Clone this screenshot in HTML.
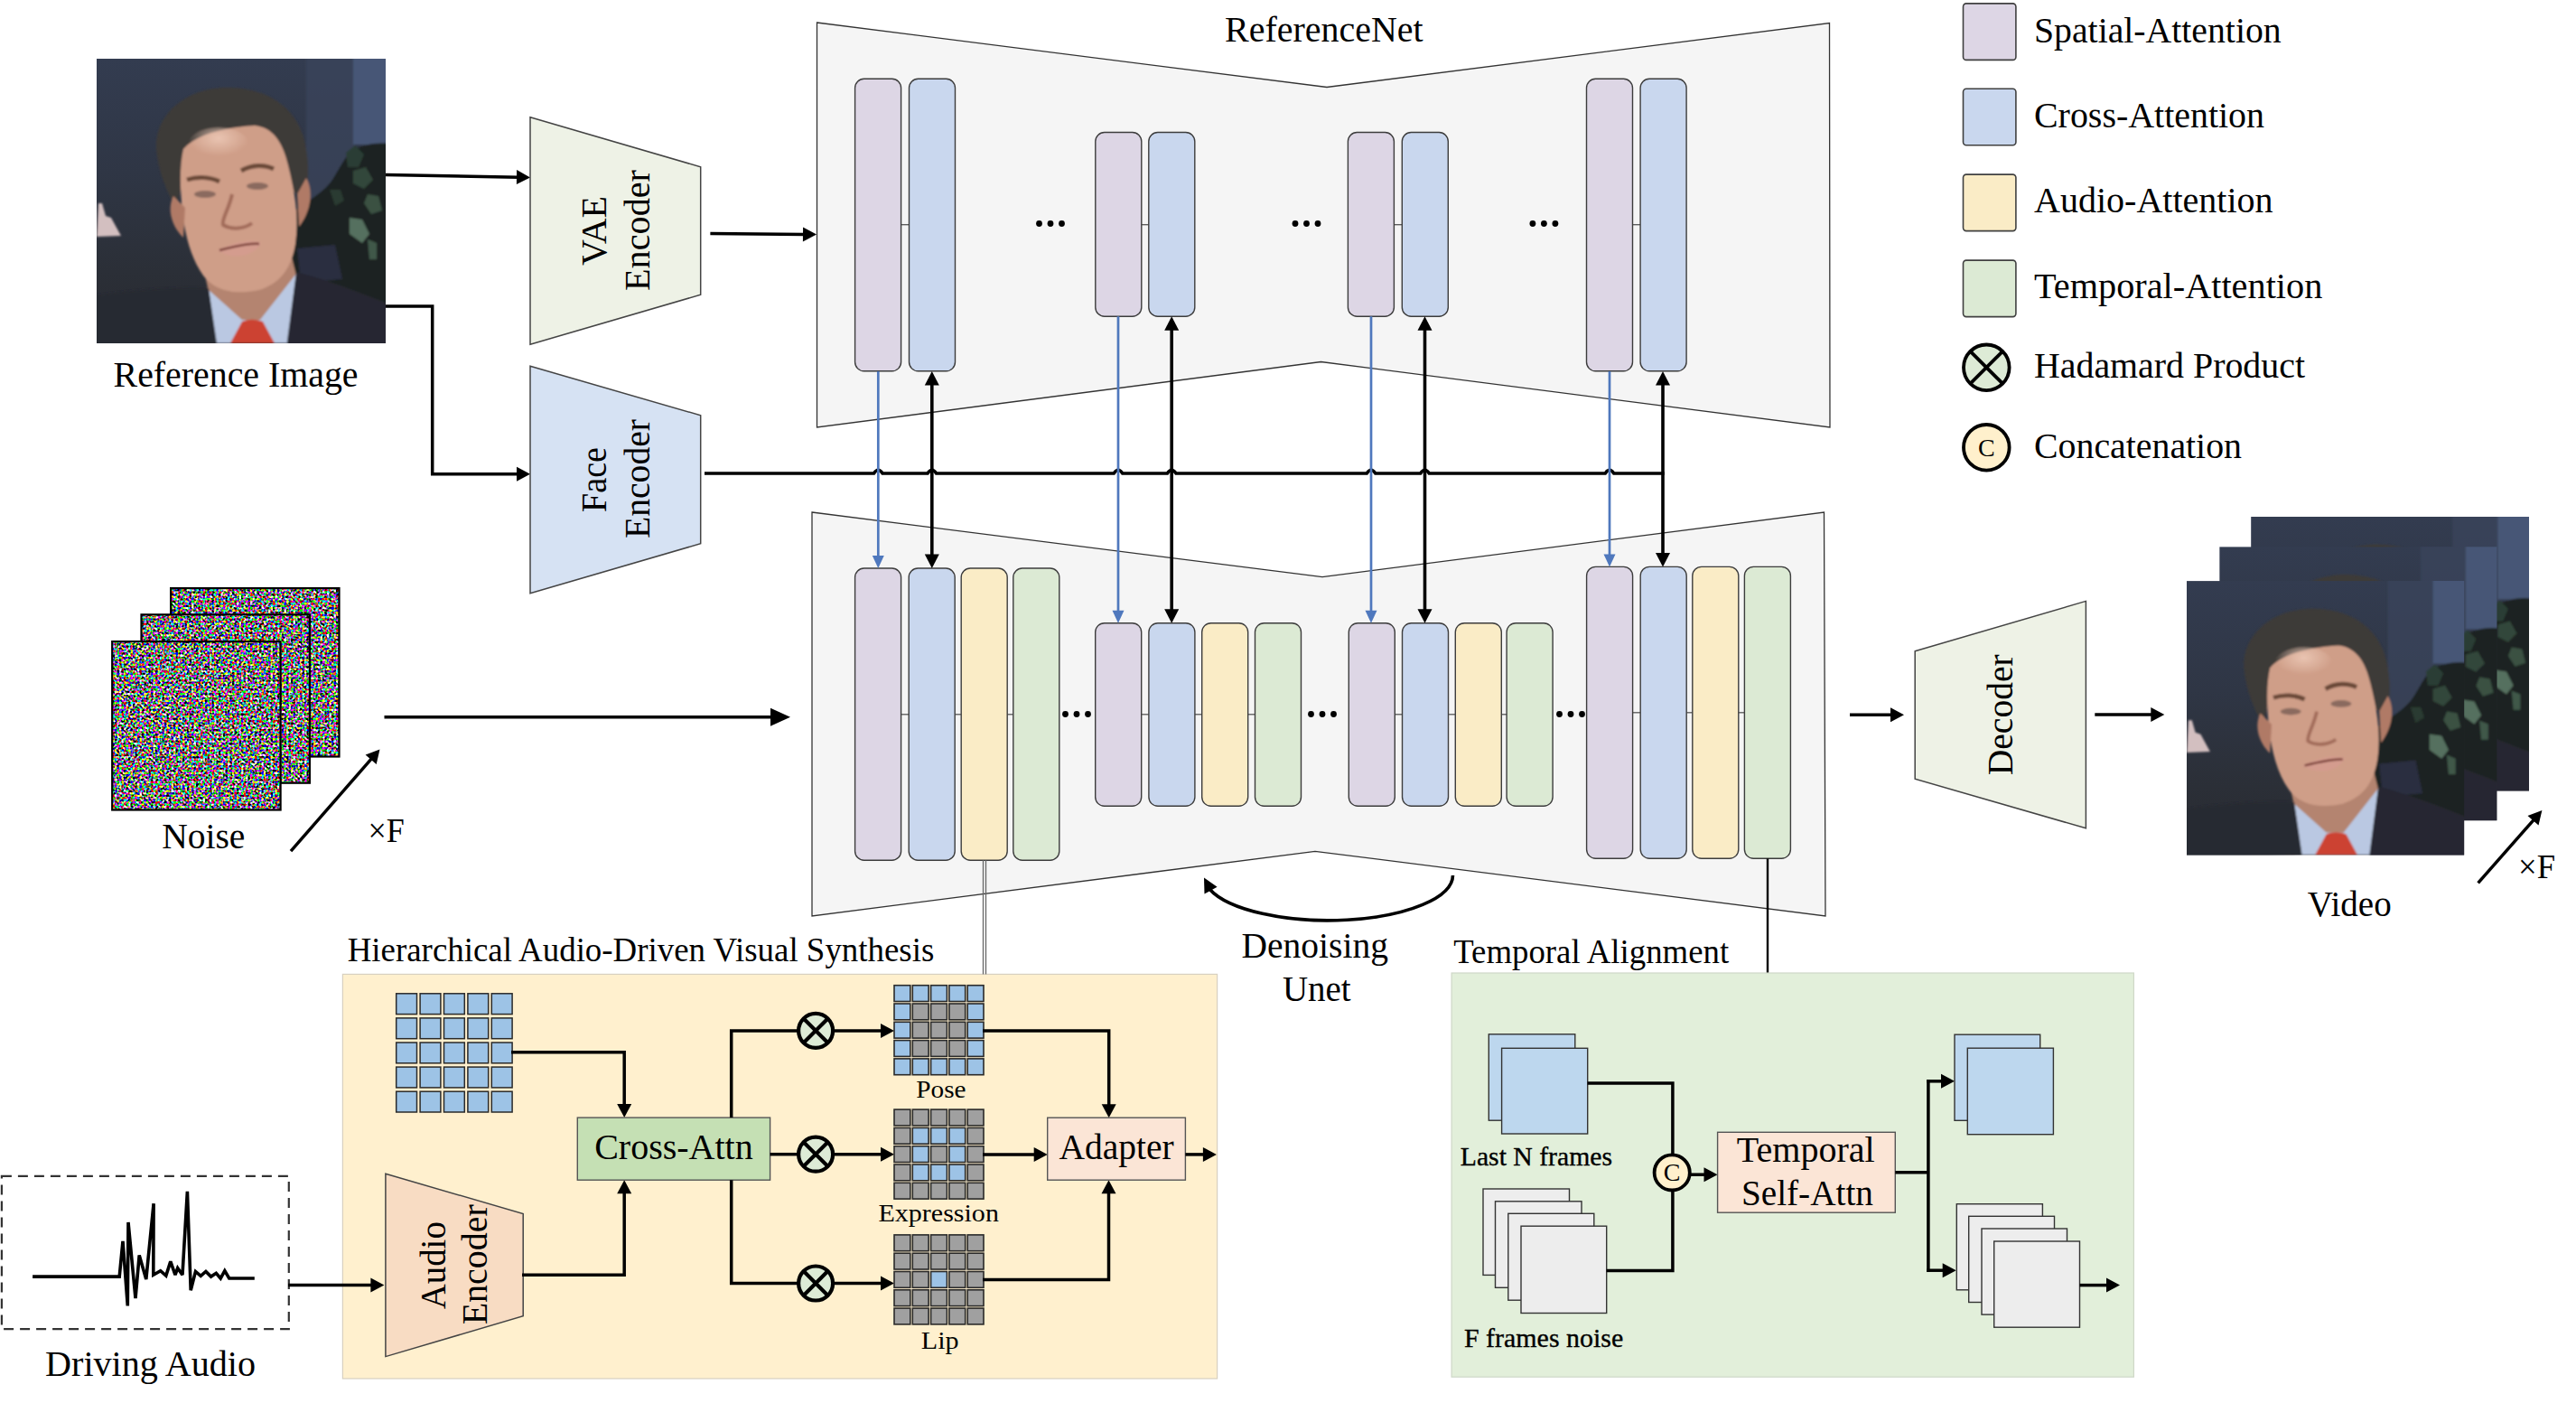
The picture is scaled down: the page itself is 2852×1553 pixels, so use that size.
<!DOCTYPE html>
<html><head><meta charset="utf-8"><title>Hallo</title>
<style>html,body{margin:0;padding:0;background:#fff;}svg{display:block;}</style></head>
<body><svg width="2852" height="1553" viewBox="0 0 2852 1553">
<defs>
<filter id="noise" x="0" y="0" width="100%" height="100%" filterUnits="objectBoundingBox" color-interpolation-filters="sRGB">
 <feTurbulence type="fractalNoise" baseFrequency="0.4" numOctaves="1" seed="3" result="t"/>
 <feComponentTransfer in="t">
  <feFuncR type="linear" slope="5.5" intercept="-2.3"/>
  <feFuncG type="linear" slope="5.5" intercept="-2.3"/>
  <feFuncB type="linear" slope="5.5" intercept="-2.3"/>
  <feFuncA type="linear" slope="0" intercept="1"/>
 </feComponentTransfer>
</filter>
<clipPath id="pc"><rect x="0" y="0" width="320" height="315"/></clipPath>
<linearGradient id="bgg" x1="0" y1="0" x2="0" y2="1">
 <stop offset="0" stop-color="#333c50"/><stop offset="0.4" stop-color="#2f3645"/><stop offset="0.75" stop-color="#2b2f37"/><stop offset="1" stop-color="#282a30"/>
</linearGradient>
<radialGradient id="faceg" cx="0.45" cy="0.35" r="0.7">
 <stop offset="0" stop-color="#dcae98"/><stop offset="0.6" stop-color="#c9957f"/><stop offset="1" stop-color="#a8705c"/>
</radialGradient>
<filter id="soft" x="-2%" y="-2%" width="104%" height="104%"><feGaussianBlur stdDeviation="1.3"/></filter>
<radialGradient id="leftdark" cx="0" cy="0.75" r="0.8"><stop offset="0" stop-color="#22252b" stop-opacity="0.6"/><stop offset="1" stop-color="#22252b" stop-opacity="0"/></radialGradient>
<radialGradient id="foreg" cx="0.5" cy="0.3" r="0.5">
 <stop offset="0" stop-color="#ecc8b6" stop-opacity="0.9"/><stop offset="1" stop-color="#ecc8b6" stop-opacity="0"/>
</radialGradient>
<g id="photo">
 <g clip-path="url(#pc)">
 <rect x="0" y="0" width="320" height="315" fill="url(#bgg)"/>
 <g filter="url(#soft)">
 <rect x="232" y="-5" width="53" height="170" fill="#3a445c" opacity="0.75"/>
 <rect x="284" y="-5" width="40" height="100" fill="#475676"/>
 <path d="M216,172 C228,160 246,152 258,138 C266,128 272,112 282,102 C295,95 308,92 325,94 L325,280 L212,280 Z" fill="#1d2421"/>
 <path d="M276,104 l10,-8 l10,10 l-6,14 l-12,0 z" fill="#2c3e34"/>
 <path d="M284,124 l14,-4 l8,14 l-10,10 l-12,-6 z" fill="#33473b"/>
 <path d="M300,150 l12,2 l4,16 l-12,4 l-8,-12 z" fill="#3a5143"/>
 <path d="M280,176 l14,2 l8,16 l-8,10 l-14,-10 z" fill="#55705f"/>
 <path d="M300,200 l10,4 l0,18 l-8,0 z" fill="#3f584a"/>
 <path d="M258,145 l12,0 l4,12 l-10,6 z" fill="#2a3b32"/>
 <path d="M222,210 L264,206 L272,244 L226,248 Z" fill="#35365c" opacity="0.55"/>
 <path d="M2,160 L6,160 L10,174 L16,176 L27,196 L0,197 Z" fill="#d3bfc0"/>
 <path d="M66,100 C64,62 98,34 140,32 C190,30 226,56 232,100 C236,125 234,140 230,152 L214,146 C212,120 204,96 186,78 C160,72 120,78 96,100 L94,140 L88,165 C76,145 68,122 66,100 Z" fill="#3e3b38"/>
 <path d="M116,222 L214,212 L221,240 L181,291 L161,291 L124,258 Z" fill="#b48470"/>
 <path d="M96,100 C110,84 140,76 175,74 C195,76 206,92 212,118 C220,150 224,175 220,205 C216,230 205,248 180,256 C150,262 130,256 118,240 C104,220 98,195 95,170 C92,140 92,118 96,100 Z" fill="#cf9e88"/>
 <ellipse cx="135" cy="96" rx="34" ry="20" fill="url(#foreg)"/>
 <path d="M85,152 C78,165 82,185 96,198 L98,165 Z" fill="#b07a66"/>
 <path d="M232,132 C240,145 238,168 224,186 L222,150 Z" fill="#b07a66"/>
 <path d="M100,134 C112,130 126,131 136,136" stroke="#6a4838" stroke-width="5" fill="none"/>
 <path d="M160,124 C172,117 186,117 196,122" stroke="#6a4838" stroke-width="5" fill="none"/>
 <ellipse cx="120" cy="150" rx="12" ry="4" fill="#8a6a5e"/>
 <ellipse cx="178" cy="141" rx="12" ry="4" fill="#8a6a5e"/>
 <path d="M150,150 C146,168 138,178 140,184 C150,190 164,188 172,182" stroke="#a26c5a" stroke-width="4" fill="none"/>
 <path d="M134,212 C150,204 172,198 182,204 C176,218 150,224 134,212 Z" fill="#d49c8e"/>
 <path d="M136,212 C152,208 170,204 180,205" stroke="#7a4038" stroke-width="2.5" fill="none"/>
 <path d="M124,256 L161,289 L181,289 L221,238 L212,315 L132,315 Z" fill="#bac8e2"/>
 <path d="M161,291 C168,288 176,288 184,291 L197,315 L148,315 Z" fill="#cc4330"/>
 <path d="M-5,262 C40,256 90,252 124,254 L133,315 L-5,320 Z" fill="#272a33"/>
 <path d="M221,236 C260,246 300,262 325,272 L325,320 L210,320 Z" fill="#262832"/>
 </g>
 </g>
</g>
</defs>
<rect x="0" y="0" width="2852" height="1553" fill="#fff"/>
<rect x="2173.5" y="3.9" width="58.4" height="62.5" rx="3.5" fill="#DDD6E5" stroke="#404040" stroke-width="1.6" />
<text x="2252" y="47" font-size="41" font-family="Liberation Serif" fill="#000" text-anchor="start" textLength="273.7" lengthAdjust="spacingAndGlyphs" >Spatial-Attention</text>
<rect x="2173.5" y="98.2" width="58.4" height="62.5" rx="3.5" fill="#C9D7EE" stroke="#404040" stroke-width="1.6" />
<text x="2252" y="140.5" font-size="41" font-family="Liberation Serif" fill="#000" text-anchor="start" textLength="255" lengthAdjust="spacingAndGlyphs" >Cross-Attention</text>
<rect x="2173.5" y="193.1" width="58.4" height="62.5" rx="3.5" fill="#FAECC6" stroke="#404040" stroke-width="1.6" />
<text x="2252" y="235.4" font-size="41" font-family="Liberation Serif" fill="#000" text-anchor="start" textLength="264.6" lengthAdjust="spacingAndGlyphs" >Audio-Attention</text>
<rect x="2173.5" y="288.1" width="58.4" height="62.5" rx="3.5" fill="#DCEAD4" stroke="#404040" stroke-width="1.6" />
<text x="2252" y="330.4" font-size="41" font-family="Liberation Serif" fill="#000" text-anchor="start" textLength="319.3" lengthAdjust="spacingAndGlyphs" >Temporal-Attention</text>
<circle cx="2199.3" cy="406.8" r="25.3" fill="#DDEBD6" stroke="#000" stroke-width="3.8"/>
<line x1="2181.4" y1="388.9" x2="2217.2" y2="424.7" stroke="#000" stroke-width="3.8" />
<line x1="2217.2" y1="388.9" x2="2181.4" y2="424.7" stroke="#000" stroke-width="3.8" />
<text x="2252" y="418.2" font-size="41" font-family="Liberation Serif" fill="#000" text-anchor="start" textLength="300" lengthAdjust="spacingAndGlyphs" >Hadamard Product</text>
<circle cx="2199.3" cy="495.3" r="25.3" fill="#FFF0CC" stroke="#000" stroke-width="3.8"/>
<text x="2199.3" y="505" font-size="28" font-family="Liberation Serif" fill="#000" text-anchor="middle" >C</text>
<text x="2252" y="506.8" font-size="41" font-family="Liberation Serif" fill="#000" text-anchor="start" textLength="230" lengthAdjust="spacingAndGlyphs" >Concatenation</text>
<polygon points="904.5,25 1469,96.5 2025.5,25.5 2026,473 1462.5,400.5 904.5,473" fill="#F5F5F5" stroke="#333" stroke-width="1.3" />
<text x="1356" y="45.9" font-size="41" font-family="Liberation Serif" fill="#000" text-anchor="start" textLength="219.7" lengthAdjust="spacingAndGlyphs" >ReferenceNet</text>
<line x1="997.6" y1="248.7" x2="1006.5" y2="248.7" stroke="#555" stroke-width="1.3" />
<rect x="946.6" y="87.3" width="51" height="323.5" rx="10" fill="#DDD6E5" stroke="#3c3c3c" stroke-width="1.4" />
<rect x="1006.5" y="87.3" width="51" height="323.5" rx="10" fill="#C9D7EE" stroke="#3c3c3c" stroke-width="1.4" />
<line x1="1263.8" y1="248.7" x2="1271.8" y2="248.7" stroke="#555" stroke-width="1.3" />
<rect x="1212.8" y="146.5" width="51" height="203.7" rx="10" fill="#DDD6E5" stroke="#3c3c3c" stroke-width="1.4" />
<rect x="1271.8" y="146.5" width="51" height="203.7" rx="10" fill="#C9D7EE" stroke="#3c3c3c" stroke-width="1.4" />
<line x1="1543.4" y1="248.7" x2="1552.3" y2="248.7" stroke="#555" stroke-width="1.3" />
<rect x="1492.4" y="146.5" width="51" height="203.7" rx="10" fill="#DDD6E5" stroke="#3c3c3c" stroke-width="1.4" />
<rect x="1552.3" y="146.5" width="51" height="203.7" rx="10" fill="#C9D7EE" stroke="#3c3c3c" stroke-width="1.4" />
<line x1="1807.5" y1="248.7" x2="1816.1" y2="248.7" stroke="#555" stroke-width="1.3" />
<rect x="1756.5" y="87.3" width="51" height="323.5" rx="10" fill="#DDD6E5" stroke="#3c3c3c" stroke-width="1.4" />
<rect x="1816.1" y="87.3" width="51" height="323.5" rx="10" fill="#C9D7EE" stroke="#3c3c3c" stroke-width="1.4" />
<circle cx="1150.5" cy="247.5" r="3.4" fill="#000"/>
<circle cx="1163" cy="247.5" r="3.4" fill="#000"/>
<circle cx="1175.5" cy="247.5" r="3.4" fill="#000"/>
<circle cx="1434" cy="247.5" r="3.4" fill="#000"/>
<circle cx="1446.5" cy="247.5" r="3.4" fill="#000"/>
<circle cx="1459" cy="247.5" r="3.4" fill="#000"/>
<circle cx="1696.9" cy="247.5" r="3.4" fill="#000"/>
<circle cx="1709.4" cy="247.5" r="3.4" fill="#000"/>
<circle cx="1721.9" cy="247.5" r="3.4" fill="#000"/>
<polygon points="899,567 1464,638.7 2019.5,567 2021,1014 1456,942.3 899,1014" fill="#F5F5F5" stroke="#333" stroke-width="1.3" />
<line x1="997.6" y1="790.8" x2="1006.2" y2="790.8" stroke="#555" stroke-width="1.3" />
<line x1="1057.2" y1="790.8" x2="1064.2" y2="790.8" stroke="#555" stroke-width="1.3" />
<line x1="1115.2" y1="790.8" x2="1121.8" y2="790.8" stroke="#555" stroke-width="1.3" />
<rect x="946.6" y="629" width="51" height="323.2" rx="10" fill="#DDD6E5" stroke="#3c3c3c" stroke-width="1.4" />
<rect x="1006.2" y="629" width="51" height="323.2" rx="10" fill="#C9D7EE" stroke="#3c3c3c" stroke-width="1.4" />
<rect x="1064.2" y="629" width="51" height="323.2" rx="10" fill="#FAECC6" stroke="#3c3c3c" stroke-width="1.4" />
<rect x="1121.8" y="629" width="51" height="323.2" rx="10" fill="#DCEAD4" stroke="#3c3c3c" stroke-width="1.4" />
<line x1="1263.7" y1="790.8" x2="1271.9" y2="790.8" stroke="#555" stroke-width="1.3" />
<line x1="1322.9" y1="790.8" x2="1330.7" y2="790.8" stroke="#555" stroke-width="1.3" />
<line x1="1381.7" y1="790.8" x2="1389.5" y2="790.8" stroke="#555" stroke-width="1.3" />
<rect x="1212.7" y="689.7" width="51" height="202.6" rx="10" fill="#DDD6E5" stroke="#3c3c3c" stroke-width="1.4" />
<rect x="1271.9" y="689.7" width="51" height="202.6" rx="10" fill="#C9D7EE" stroke="#3c3c3c" stroke-width="1.4" />
<rect x="1330.7" y="689.7" width="51" height="202.6" rx="10" fill="#FAECC6" stroke="#3c3c3c" stroke-width="1.4" />
<rect x="1389.5" y="689.7" width="51" height="202.6" rx="10" fill="#DCEAD4" stroke="#3c3c3c" stroke-width="1.4" />
<line x1="1544.3" y1="790.8" x2="1552.5" y2="790.8" stroke="#555" stroke-width="1.3" />
<line x1="1603.5" y1="790.8" x2="1611.3" y2="790.8" stroke="#555" stroke-width="1.3" />
<line x1="1662.3" y1="790.8" x2="1668.1" y2="790.8" stroke="#555" stroke-width="1.3" />
<rect x="1493.3" y="689.7" width="51" height="202.6" rx="10" fill="#DDD6E5" stroke="#3c3c3c" stroke-width="1.4" />
<rect x="1552.5" y="689.7" width="51" height="202.6" rx="10" fill="#C9D7EE" stroke="#3c3c3c" stroke-width="1.4" />
<rect x="1611.3" y="689.7" width="51" height="202.6" rx="10" fill="#FAECC6" stroke="#3c3c3c" stroke-width="1.4" />
<rect x="1668.1" y="689.7" width="51" height="202.6" rx="10" fill="#DCEAD4" stroke="#3c3c3c" stroke-width="1.4" />
<line x1="1807.6" y1="788.8" x2="1816.2" y2="788.8" stroke="#555" stroke-width="1.3" />
<line x1="1867.2" y1="788.8" x2="1873.8" y2="788.8" stroke="#555" stroke-width="1.3" />
<line x1="1924.8" y1="788.8" x2="1931.4" y2="788.8" stroke="#555" stroke-width="1.3" />
<rect x="1756.6" y="627.4" width="51" height="322.9" rx="10" fill="#DDD6E5" stroke="#3c3c3c" stroke-width="1.4" />
<rect x="1816.2" y="627.4" width="51" height="322.9" rx="10" fill="#C9D7EE" stroke="#3c3c3c" stroke-width="1.4" />
<rect x="1873.8" y="627.4" width="51" height="322.9" rx="10" fill="#FAECC6" stroke="#3c3c3c" stroke-width="1.4" />
<rect x="1931.4" y="627.4" width="51" height="322.9" rx="10" fill="#DCEAD4" stroke="#3c3c3c" stroke-width="1.4" />
<circle cx="1179.5" cy="790.5" r="3.4" fill="#000"/>
<circle cx="1192" cy="790.5" r="3.4" fill="#000"/>
<circle cx="1204.5" cy="790.5" r="3.4" fill="#000"/>
<circle cx="1451.5" cy="790.5" r="3.4" fill="#000"/>
<circle cx="1464" cy="790.5" r="3.4" fill="#000"/>
<circle cx="1476.5" cy="790.5" r="3.4" fill="#000"/>
<circle cx="1726.5" cy="790.5" r="3.4" fill="#000"/>
<circle cx="1739" cy="790.5" r="3.4" fill="#000"/>
<circle cx="1751.5" cy="790.5" r="3.4" fill="#000"/>
<path d="M1608.5,969 A138,50 0 0 1 1339,984" fill="none" stroke="#000" stroke-width="3.6" stroke-linejoin="miter" />
<polygon points="1333,971.5 1347.6,981.8 1333.5,989.4" fill="#000"/>
<path d="M780,524 L967.5,524 Q972.3,516.5 977.1,524 L1027,524 Q1031.8,516.5 1036.6,524 L1233.2,524 Q1238,516.5 1242.8,524 L1292.4,524 Q1297.2,516.5 1302,524 L1513.2,524 Q1518,516.5 1522.8,524 L1572.7,524 Q1577.5,516.5 1582.3,524 L1777.2,524 Q1782,516.5 1786.8,524 L1842.8,524" fill="none" stroke="#000" stroke-width="3.6" stroke-linejoin="miter" />
<line x1="972.3" y1="411" x2="972.3" y2="617" stroke="#4F78BD" stroke-width="2.7" />
<polygon points="972.3,629 965.8,615 978.8,615" fill="#4F78BD"/>
<line x1="1238" y1="350.2" x2="1238" y2="677.7" stroke="#4F78BD" stroke-width="2.7" />
<polygon points="1238,689.7 1231.5,675.7 1244.5,675.7" fill="#4F78BD"/>
<line x1="1518" y1="350.2" x2="1518" y2="677.7" stroke="#4F78BD" stroke-width="2.7" />
<polygon points="1518,689.7 1511.5,675.7 1524.5,675.7" fill="#4F78BD"/>
<line x1="1782" y1="411" x2="1782" y2="615.4" stroke="#4F78BD" stroke-width="2.7" />
<polygon points="1782,627.4 1775.5,613.4 1788.5,613.4" fill="#4F78BD"/>
<line x1="1031.8" y1="424" x2="1031.8" y2="616" stroke="#000" stroke-width="3.6" />
<polygon points="1031.8,411 1039.8,426.5 1023.8,426.5" fill="#000"/>
<polygon points="1031.8,629 1023.8,613.5 1039.8,613.5" fill="#000"/>
<line x1="1297.2" y1="363.2" x2="1297.2" y2="676.7" stroke="#000" stroke-width="3.6" />
<polygon points="1297.2,350.2 1305.2,365.7 1289.2,365.7" fill="#000"/>
<polygon points="1297.2,689.7 1289.2,674.2 1305.2,674.2" fill="#000"/>
<line x1="1577.5" y1="363.2" x2="1577.5" y2="676.7" stroke="#000" stroke-width="3.6" />
<polygon points="1577.5,350.2 1585.5,365.7 1569.5,365.7" fill="#000"/>
<polygon points="1577.5,689.7 1569.5,674.2 1585.5,674.2" fill="#000"/>
<line x1="1841" y1="424" x2="1841" y2="614.4" stroke="#000" stroke-width="3.6" />
<polygon points="1841,411 1849,426.5 1833,426.5" fill="#000"/>
<polygon points="1841,627.4 1833,611.9 1849,611.9" fill="#000"/>
<use href="#photo" x="107" y="65"/>
<text x="125.6" y="428.3" font-size="40" font-family="Liberation Serif" fill="#000" text-anchor="start" textLength="270.9" lengthAdjust="spacingAndGlyphs" >Reference Image</text>
<line x1="427" y1="193.5" x2="574" y2="196.2" stroke="#000" stroke-width="3.5" />
<polygon points="587,196.4 571.9,204.1 572.1,188.1" fill="#000"/>
<path d="M427,339 L478.7,339 L478.7,524.7 L574,524.7" fill="none" stroke="#000" stroke-width="3.5" stroke-linejoin="miter" />
<polygon points="587,524.7 572,532.7 572,516.7" fill="#000"/>
<polygon points="587,129.8 775.7,184.8 775.7,326.2 587,381.2" fill="#EEF2E6" stroke="#444" stroke-width="1.5" />
<polygon points="587,405.2 775.7,459.8 775.7,601.7 587,656.7" fill="#D6E2F3" stroke="#444" stroke-width="1.5" />
<text transform="translate(670.6,294) rotate(-90)" x="0" y="0" font-size="41" font-family="Liberation Serif" textLength="77" lengthAdjust="spacingAndGlyphs" >VAE</text>
<text transform="translate(718.6,322) rotate(-90)" x="0" y="0" font-size="41" font-family="Liberation Serif" textLength="134" lengthAdjust="spacingAndGlyphs" >Encoder</text>
<text transform="translate(670.6,567) rotate(-90)" x="0" y="0" font-size="41" font-family="Liberation Serif" textLength="72" lengthAdjust="spacingAndGlyphs" >Face</text>
<text transform="translate(718.6,596) rotate(-90)" x="0" y="0" font-size="41" font-family="Liberation Serif" textLength="132" lengthAdjust="spacingAndGlyphs" >Encoder</text>
<line x1="786.4" y1="258.4" x2="891" y2="259.5" stroke="#000" stroke-width="3.5" />
<polygon points="904,259.6 888.9,267.4 889.1,251.4" fill="#000"/>
<rect x="189.1" y="651.1" width="186.4" height="186.4" fill="#808080" filter="url(#noise)"/>
<rect x="189.1" y="651.1" width="186.4" height="186.4" rx="0" fill="none" stroke="#000" stroke-width="2.2" />
<rect x="156.5" y="680.3" width="186.4" height="186.4" fill="#808080" filter="url(#noise)"/>
<rect x="156.5" y="680.3" width="186.4" height="186.4" rx="0" fill="none" stroke="#000" stroke-width="2.2" />
<rect x="124.2" y="710.1" width="186.4" height="186.4" fill="#808080" filter="url(#noise)"/>
<rect x="124.2" y="710.1" width="186.4" height="186.4" rx="0" fill="none" stroke="#000" stroke-width="2.2" />
<text x="179.2" y="939" font-size="40" font-family="Liberation Serif" fill="#000" text-anchor="start" textLength="92.2" lengthAdjust="spacingAndGlyphs" >Noise</text>
<line x1="322" y1="942.1" x2="411.9" y2="839.2" stroke="#000" stroke-width="3.5" />
<polygon points="420.5,829.4 416.7,846 404.6,835.4" fill="#000"/>
<text x="407.5" y="931.9" font-size="38" font-family="Liberation Serif" fill="#000" text-anchor="start" textLength="40.3" lengthAdjust="spacingAndGlyphs" >&#215;F</text>
<line x1="425.5" y1="793.7" x2="855" y2="793.7" stroke="#000" stroke-width="3.5" />
<polygon points="875,793.7 853,803.7 853,783.7" fill="#000"/>
<line x1="2048" y1="791.3" x2="2095" y2="791.3" stroke="#000" stroke-width="3.5" />
<polygon points="2108,791.3 2093,799.3 2093,783.3" fill="#000"/>
<polygon points="2120.2,720.8 2309.4,665.4 2309.4,916.8 2120.2,862.1" fill="#EEF2E6" stroke="#444" stroke-width="1.5" />
<text transform="translate(2228,858.3) rotate(-90)" x="0" y="0" font-size="41" font-family="Liberation Serif" textLength="134" lengthAdjust="spacingAndGlyphs" >Decoder</text>
<line x1="2319.3" y1="791" x2="2383.3" y2="791" stroke="#000" stroke-width="3.5" />
<polygon points="2396.3,791 2381.3,799 2381.3,783" fill="#000"/>
<use href="#photo" transform="translate(2492.1,572) scale(0.9622,0.9632)"/>
<use href="#photo" transform="translate(2457.2,605.2) scale(0.9600,0.9622)"/>
<use href="#photo" transform="translate(2421,643.1) scale(0.9600,0.9635)"/>
<line x1="2743.6" y1="977.4" x2="2805.8" y2="906.8" stroke="#000" stroke-width="3.5" />
<polygon points="2814.4,897 2810.5,913.5 2798.5,903" fill="#000"/>
<text x="2788" y="972.2" font-size="38" font-family="Liberation Serif" fill="#000" text-anchor="start" textLength="41" lengthAdjust="spacingAndGlyphs" >&#215;F</text>
<text x="2554.7" y="1014" font-size="40" font-family="Liberation Serif" fill="#000" text-anchor="start" textLength="93" lengthAdjust="spacingAndGlyphs" >Video</text>
<text x="1374.5" y="1060.2" font-size="40" font-family="Liberation Serif" fill="#000" text-anchor="start" textLength="162.4" lengthAdjust="spacingAndGlyphs" >Denoising</text>
<text x="1419.9" y="1107.7" font-size="40" font-family="Liberation Serif" fill="#000" text-anchor="start" textLength="75.7" lengthAdjust="spacingAndGlyphs" >Unet</text>
<rect x="379.4" y="1078.4" width="968.2" height="447.6" rx="0" fill="#FFF0CE" stroke="#d8d0c0" stroke-width="1.2" />
<text x="384.7" y="1063.7" font-size="38" font-family="Liberation Serif" fill="#000" text-anchor="start" textLength="649.6" lengthAdjust="spacingAndGlyphs" >Hierarchical Audio-Driven Visual Synthesis</text>
<line x1="1088.5" y1="952.2" x2="1088.5" y2="1078.4" stroke="#666" stroke-width="1.3" />
<line x1="1091.5" y1="952.2" x2="1091.5" y2="1078.4" stroke="#666" stroke-width="1.3" />
<rect x="1.9" y="1301.8" width="317.9" height="169.4" rx="0" fill="none" stroke="#333" stroke-width="2.2" stroke-dasharray="11,7"/>
<polyline points="36.1,1413.1 132.2,1413.1 136,1374 141.3,1445.4 142,1353 150,1437 154.2,1389.5 161.8,1416 170.1,1332.2 169.8,1411.2 177.7,1406.6 183.8,1412 188.8,1396.4 194,1411.2 196.7,1403.6 202,1411.2 207.4,1318.9 211.2,1428.3 216.5,1407.4 222.2,1412.3 227.9,1407.4 233.6,1413.1 239.3,1409.3 244.2,1415 248.8,1406.6 253.7,1415 281.8,1415" fill="none" stroke="#000" stroke-width="3.6" stroke-linejoin="miter" stroke-miterlimit="3"/>
<text x="50.1" y="1523.2" font-size="40" font-family="Liberation Serif" fill="#000" text-anchor="start" textLength="232.9" lengthAdjust="spacingAndGlyphs" >Driving Audio</text>
<line x1="319" y1="1422.6" x2="412.4" y2="1422.6" stroke="#000" stroke-width="3.5" />
<polygon points="425.4,1422.6 410.4,1430.6 410.4,1414.6" fill="#000"/>
<polygon points="426.9,1299.2 579.2,1343.6 579.2,1456.8 426.9,1501.6" fill="#F8DCC3" stroke="#444" stroke-width="1.5" />
<text transform="translate(492.6,1449.2) rotate(-90)" x="0" y="0" font-size="41" font-family="Liberation Serif" textLength="97" lengthAdjust="spacingAndGlyphs" >Audio</text>
<text transform="translate(539.3,1466.3) rotate(-90)" x="0" y="0" font-size="41" font-family="Liberation Serif" textLength="133" lengthAdjust="spacingAndGlyphs" >Encoder</text>
<rect x="438.7" y="1099.8" width="22.8" height="22.8" rx="0" fill="#9DC3E6" stroke="#2a2a2a" stroke-width="1.5" />
<rect x="465.1" y="1099.8" width="22.8" height="22.8" rx="0" fill="#9DC3E6" stroke="#2a2a2a" stroke-width="1.5" />
<rect x="491.5" y="1099.8" width="22.8" height="22.8" rx="0" fill="#9DC3E6" stroke="#2a2a2a" stroke-width="1.5" />
<rect x="517.9" y="1099.8" width="22.8" height="22.8" rx="0" fill="#9DC3E6" stroke="#2a2a2a" stroke-width="1.5" />
<rect x="544.3" y="1099.8" width="22.8" height="22.8" rx="0" fill="#9DC3E6" stroke="#2a2a2a" stroke-width="1.5" />
<rect x="438.7" y="1126.9" width="22.8" height="22.8" rx="0" fill="#9DC3E6" stroke="#2a2a2a" stroke-width="1.5" />
<rect x="465.1" y="1126.9" width="22.8" height="22.8" rx="0" fill="#9DC3E6" stroke="#2a2a2a" stroke-width="1.5" />
<rect x="491.5" y="1126.9" width="22.8" height="22.8" rx="0" fill="#9DC3E6" stroke="#2a2a2a" stroke-width="1.5" />
<rect x="517.9" y="1126.9" width="22.8" height="22.8" rx="0" fill="#9DC3E6" stroke="#2a2a2a" stroke-width="1.5" />
<rect x="544.3" y="1126.9" width="22.8" height="22.8" rx="0" fill="#9DC3E6" stroke="#2a2a2a" stroke-width="1.5" />
<rect x="438.7" y="1154" width="22.8" height="22.8" rx="0" fill="#9DC3E6" stroke="#2a2a2a" stroke-width="1.5" />
<rect x="465.1" y="1154" width="22.8" height="22.8" rx="0" fill="#9DC3E6" stroke="#2a2a2a" stroke-width="1.5" />
<rect x="491.5" y="1154" width="22.8" height="22.8" rx="0" fill="#9DC3E6" stroke="#2a2a2a" stroke-width="1.5" />
<rect x="517.9" y="1154" width="22.8" height="22.8" rx="0" fill="#9DC3E6" stroke="#2a2a2a" stroke-width="1.5" />
<rect x="544.3" y="1154" width="22.8" height="22.8" rx="0" fill="#9DC3E6" stroke="#2a2a2a" stroke-width="1.5" />
<rect x="438.7" y="1181.1" width="22.8" height="22.8" rx="0" fill="#9DC3E6" stroke="#2a2a2a" stroke-width="1.5" />
<rect x="465.1" y="1181.1" width="22.8" height="22.8" rx="0" fill="#9DC3E6" stroke="#2a2a2a" stroke-width="1.5" />
<rect x="491.5" y="1181.1" width="22.8" height="22.8" rx="0" fill="#9DC3E6" stroke="#2a2a2a" stroke-width="1.5" />
<rect x="517.9" y="1181.1" width="22.8" height="22.8" rx="0" fill="#9DC3E6" stroke="#2a2a2a" stroke-width="1.5" />
<rect x="544.3" y="1181.1" width="22.8" height="22.8" rx="0" fill="#9DC3E6" stroke="#2a2a2a" stroke-width="1.5" />
<rect x="438.7" y="1208.2" width="22.8" height="22.8" rx="0" fill="#9DC3E6" stroke="#2a2a2a" stroke-width="1.5" />
<rect x="465.1" y="1208.2" width="22.8" height="22.8" rx="0" fill="#9DC3E6" stroke="#2a2a2a" stroke-width="1.5" />
<rect x="491.5" y="1208.2" width="22.8" height="22.8" rx="0" fill="#9DC3E6" stroke="#2a2a2a" stroke-width="1.5" />
<rect x="517.9" y="1208.2" width="22.8" height="22.8" rx="0" fill="#9DC3E6" stroke="#2a2a2a" stroke-width="1.5" />
<rect x="544.3" y="1208.2" width="22.8" height="22.8" rx="0" fill="#9DC3E6" stroke="#2a2a2a" stroke-width="1.5" />
<path d="M566,1164.7 L691.2,1164.7 L691.2,1224" fill="none" stroke="#000" stroke-width="3.5" stroke-linejoin="miter" />
<polygon points="691.2,1237.1 683.2,1222.1 699.2,1222.1" fill="#000"/>
<path d="M578,1411.2 L691.2,1411.2 L691.2,1320" fill="none" stroke="#000" stroke-width="3.5" stroke-linejoin="miter" />
<polygon points="691.2,1306.2 699.2,1321.2 683.2,1321.2" fill="#000"/>
<rect x="639.3" y="1237.1" width="213.3" height="69.1" rx="0" fill="#C5E0B4" stroke="#555" stroke-width="1.4" />
<text x="658.2" y="1282.6" font-size="41" font-family="Liberation Serif" fill="#000" text-anchor="start" textLength="175.5" lengthAdjust="spacingAndGlyphs" >Cross-Attn</text>
<path d="M809.7,1237.1 L809.7,1140.9 L883,1140.9" fill="none" stroke="#000" stroke-width="3.5" stroke-linejoin="miter" />
<line x1="852.6" y1="1277.7" x2="883" y2="1277.7" stroke="#000" stroke-width="3.5" />
<path d="M809.7,1306.2 L809.7,1420.5 L883,1420.5" fill="none" stroke="#000" stroke-width="3.5" stroke-linejoin="miter" />
<circle cx="903.1" cy="1140.9" r="19" fill="#DDEBD6" stroke="#000" stroke-width="4.2"/>
<line x1="889.7" y1="1127.5" x2="916.5" y2="1154.3" stroke="#000" stroke-width="4.2" />
<line x1="916.5" y1="1127.5" x2="889.7" y2="1154.3" stroke="#000" stroke-width="4.2" />
<line x1="922" y1="1140.9" x2="977" y2="1140.9" stroke="#000" stroke-width="3.5" />
<polygon points="990,1140.9 975,1148.9 975,1132.9" fill="#000"/>
<circle cx="903.1" cy="1277.7" r="19" fill="#DDEBD6" stroke="#000" stroke-width="4.2"/>
<line x1="889.7" y1="1264.3" x2="916.5" y2="1291.1" stroke="#000" stroke-width="4.2" />
<line x1="916.5" y1="1264.3" x2="889.7" y2="1291.1" stroke="#000" stroke-width="4.2" />
<line x1="922" y1="1277.7" x2="977" y2="1277.7" stroke="#000" stroke-width="3.5" />
<polygon points="990,1277.7 975,1285.7 975,1269.7" fill="#000"/>
<circle cx="903.1" cy="1420.5" r="19" fill="#DDEBD6" stroke="#000" stroke-width="4.2"/>
<line x1="889.7" y1="1407.1" x2="916.5" y2="1433.9" stroke="#000" stroke-width="4.2" />
<line x1="916.5" y1="1407.1" x2="889.7" y2="1433.9" stroke="#000" stroke-width="4.2" />
<line x1="922" y1="1420.5" x2="977" y2="1420.5" stroke="#000" stroke-width="3.5" />
<polygon points="990,1420.5 975,1428.5 975,1412.5" fill="#000"/>
<rect x="990" y="1090.7" width="17.8" height="17.8" rx="0" fill="#9DC3E6" stroke="#2a2a2a" stroke-width="1.6" />
<rect x="1010.3" y="1090.7" width="17.8" height="17.8" rx="0" fill="#9DC3E6" stroke="#2a2a2a" stroke-width="1.6" />
<rect x="1030.6" y="1090.7" width="17.8" height="17.8" rx="0" fill="#9DC3E6" stroke="#2a2a2a" stroke-width="1.6" />
<rect x="1050.9" y="1090.7" width="17.8" height="17.8" rx="0" fill="#9DC3E6" stroke="#2a2a2a" stroke-width="1.6" />
<rect x="1071.2" y="1090.7" width="17.8" height="17.8" rx="0" fill="#9DC3E6" stroke="#2a2a2a" stroke-width="1.6" />
<rect x="990" y="1111" width="17.8" height="17.8" rx="0" fill="#9DC3E6" stroke="#2a2a2a" stroke-width="1.6" />
<rect x="1010.3" y="1111" width="17.8" height="17.8" rx="0" fill="#A0A0A0" stroke="#2a2a2a" stroke-width="1.6" />
<rect x="1030.6" y="1111" width="17.8" height="17.8" rx="0" fill="#A0A0A0" stroke="#2a2a2a" stroke-width="1.6" />
<rect x="1050.9" y="1111" width="17.8" height="17.8" rx="0" fill="#A0A0A0" stroke="#2a2a2a" stroke-width="1.6" />
<rect x="1071.2" y="1111" width="17.8" height="17.8" rx="0" fill="#9DC3E6" stroke="#2a2a2a" stroke-width="1.6" />
<rect x="990" y="1131.3" width="17.8" height="17.8" rx="0" fill="#9DC3E6" stroke="#2a2a2a" stroke-width="1.6" />
<rect x="1010.3" y="1131.3" width="17.8" height="17.8" rx="0" fill="#A0A0A0" stroke="#2a2a2a" stroke-width="1.6" />
<rect x="1030.6" y="1131.3" width="17.8" height="17.8" rx="0" fill="#A0A0A0" stroke="#2a2a2a" stroke-width="1.6" />
<rect x="1050.9" y="1131.3" width="17.8" height="17.8" rx="0" fill="#A0A0A0" stroke="#2a2a2a" stroke-width="1.6" />
<rect x="1071.2" y="1131.3" width="17.8" height="17.8" rx="0" fill="#9DC3E6" stroke="#2a2a2a" stroke-width="1.6" />
<rect x="990" y="1151.6" width="17.8" height="17.8" rx="0" fill="#9DC3E6" stroke="#2a2a2a" stroke-width="1.6" />
<rect x="1010.3" y="1151.6" width="17.8" height="17.8" rx="0" fill="#A0A0A0" stroke="#2a2a2a" stroke-width="1.6" />
<rect x="1030.6" y="1151.6" width="17.8" height="17.8" rx="0" fill="#A0A0A0" stroke="#2a2a2a" stroke-width="1.6" />
<rect x="1050.9" y="1151.6" width="17.8" height="17.8" rx="0" fill="#A0A0A0" stroke="#2a2a2a" stroke-width="1.6" />
<rect x="1071.2" y="1151.6" width="17.8" height="17.8" rx="0" fill="#9DC3E6" stroke="#2a2a2a" stroke-width="1.6" />
<rect x="990" y="1171.9" width="17.8" height="17.8" rx="0" fill="#9DC3E6" stroke="#2a2a2a" stroke-width="1.6" />
<rect x="1010.3" y="1171.9" width="17.8" height="17.8" rx="0" fill="#9DC3E6" stroke="#2a2a2a" stroke-width="1.6" />
<rect x="1030.6" y="1171.9" width="17.8" height="17.8" rx="0" fill="#9DC3E6" stroke="#2a2a2a" stroke-width="1.6" />
<rect x="1050.9" y="1171.9" width="17.8" height="17.8" rx="0" fill="#9DC3E6" stroke="#2a2a2a" stroke-width="1.6" />
<rect x="1071.2" y="1171.9" width="17.8" height="17.8" rx="0" fill="#9DC3E6" stroke="#2a2a2a" stroke-width="1.6" />
<rect x="990" y="1228.1" width="17.8" height="17.8" rx="0" fill="#A0A0A0" stroke="#2a2a2a" stroke-width="1.6" />
<rect x="1010.3" y="1228.1" width="17.8" height="17.8" rx="0" fill="#A0A0A0" stroke="#2a2a2a" stroke-width="1.6" />
<rect x="1030.6" y="1228.1" width="17.8" height="17.8" rx="0" fill="#A0A0A0" stroke="#2a2a2a" stroke-width="1.6" />
<rect x="1050.9" y="1228.1" width="17.8" height="17.8" rx="0" fill="#A0A0A0" stroke="#2a2a2a" stroke-width="1.6" />
<rect x="1071.2" y="1228.1" width="17.8" height="17.8" rx="0" fill="#A0A0A0" stroke="#2a2a2a" stroke-width="1.6" />
<rect x="990" y="1248.4" width="17.8" height="17.8" rx="0" fill="#A0A0A0" stroke="#2a2a2a" stroke-width="1.6" />
<rect x="1010.3" y="1248.4" width="17.8" height="17.8" rx="0" fill="#9DC3E6" stroke="#2a2a2a" stroke-width="1.6" />
<rect x="1030.6" y="1248.4" width="17.8" height="17.8" rx="0" fill="#9DC3E6" stroke="#2a2a2a" stroke-width="1.6" />
<rect x="1050.9" y="1248.4" width="17.8" height="17.8" rx="0" fill="#9DC3E6" stroke="#2a2a2a" stroke-width="1.6" />
<rect x="1071.2" y="1248.4" width="17.8" height="17.8" rx="0" fill="#A0A0A0" stroke="#2a2a2a" stroke-width="1.6" />
<rect x="990" y="1268.7" width="17.8" height="17.8" rx="0" fill="#A0A0A0" stroke="#2a2a2a" stroke-width="1.6" />
<rect x="1010.3" y="1268.7" width="17.8" height="17.8" rx="0" fill="#9DC3E6" stroke="#2a2a2a" stroke-width="1.6" />
<rect x="1030.6" y="1268.7" width="17.8" height="17.8" rx="0" fill="#A0A0A0" stroke="#2a2a2a" stroke-width="1.6" />
<rect x="1050.9" y="1268.7" width="17.8" height="17.8" rx="0" fill="#9DC3E6" stroke="#2a2a2a" stroke-width="1.6" />
<rect x="1071.2" y="1268.7" width="17.8" height="17.8" rx="0" fill="#A0A0A0" stroke="#2a2a2a" stroke-width="1.6" />
<rect x="990" y="1289" width="17.8" height="17.8" rx="0" fill="#A0A0A0" stroke="#2a2a2a" stroke-width="1.6" />
<rect x="1010.3" y="1289" width="17.8" height="17.8" rx="0" fill="#9DC3E6" stroke="#2a2a2a" stroke-width="1.6" />
<rect x="1030.6" y="1289" width="17.8" height="17.8" rx="0" fill="#9DC3E6" stroke="#2a2a2a" stroke-width="1.6" />
<rect x="1050.9" y="1289" width="17.8" height="17.8" rx="0" fill="#9DC3E6" stroke="#2a2a2a" stroke-width="1.6" />
<rect x="1071.2" y="1289" width="17.8" height="17.8" rx="0" fill="#A0A0A0" stroke="#2a2a2a" stroke-width="1.6" />
<rect x="990" y="1309.3" width="17.8" height="17.8" rx="0" fill="#A0A0A0" stroke="#2a2a2a" stroke-width="1.6" />
<rect x="1010.3" y="1309.3" width="17.8" height="17.8" rx="0" fill="#A0A0A0" stroke="#2a2a2a" stroke-width="1.6" />
<rect x="1030.6" y="1309.3" width="17.8" height="17.8" rx="0" fill="#A0A0A0" stroke="#2a2a2a" stroke-width="1.6" />
<rect x="1050.9" y="1309.3" width="17.8" height="17.8" rx="0" fill="#A0A0A0" stroke="#2a2a2a" stroke-width="1.6" />
<rect x="1071.2" y="1309.3" width="17.8" height="17.8" rx="0" fill="#A0A0A0" stroke="#2a2a2a" stroke-width="1.6" />
<rect x="990" y="1366.9" width="17.8" height="17.8" rx="0" fill="#A0A0A0" stroke="#2a2a2a" stroke-width="1.6" />
<rect x="1010.3" y="1366.9" width="17.8" height="17.8" rx="0" fill="#A0A0A0" stroke="#2a2a2a" stroke-width="1.6" />
<rect x="1030.6" y="1366.9" width="17.8" height="17.8" rx="0" fill="#A0A0A0" stroke="#2a2a2a" stroke-width="1.6" />
<rect x="1050.9" y="1366.9" width="17.8" height="17.8" rx="0" fill="#A0A0A0" stroke="#2a2a2a" stroke-width="1.6" />
<rect x="1071.2" y="1366.9" width="17.8" height="17.8" rx="0" fill="#A0A0A0" stroke="#2a2a2a" stroke-width="1.6" />
<rect x="990" y="1387.2" width="17.8" height="17.8" rx="0" fill="#A0A0A0" stroke="#2a2a2a" stroke-width="1.6" />
<rect x="1010.3" y="1387.2" width="17.8" height="17.8" rx="0" fill="#A0A0A0" stroke="#2a2a2a" stroke-width="1.6" />
<rect x="1030.6" y="1387.2" width="17.8" height="17.8" rx="0" fill="#A0A0A0" stroke="#2a2a2a" stroke-width="1.6" />
<rect x="1050.9" y="1387.2" width="17.8" height="17.8" rx="0" fill="#A0A0A0" stroke="#2a2a2a" stroke-width="1.6" />
<rect x="1071.2" y="1387.2" width="17.8" height="17.8" rx="0" fill="#A0A0A0" stroke="#2a2a2a" stroke-width="1.6" />
<rect x="990" y="1407.5" width="17.8" height="17.8" rx="0" fill="#A0A0A0" stroke="#2a2a2a" stroke-width="1.6" />
<rect x="1010.3" y="1407.5" width="17.8" height="17.8" rx="0" fill="#A0A0A0" stroke="#2a2a2a" stroke-width="1.6" />
<rect x="1030.6" y="1407.5" width="17.8" height="17.8" rx="0" fill="#9DC3E6" stroke="#2a2a2a" stroke-width="1.6" />
<rect x="1050.9" y="1407.5" width="17.8" height="17.8" rx="0" fill="#A0A0A0" stroke="#2a2a2a" stroke-width="1.6" />
<rect x="1071.2" y="1407.5" width="17.8" height="17.8" rx="0" fill="#A0A0A0" stroke="#2a2a2a" stroke-width="1.6" />
<rect x="990" y="1427.8" width="17.8" height="17.8" rx="0" fill="#A0A0A0" stroke="#2a2a2a" stroke-width="1.6" />
<rect x="1010.3" y="1427.8" width="17.8" height="17.8" rx="0" fill="#A0A0A0" stroke="#2a2a2a" stroke-width="1.6" />
<rect x="1030.6" y="1427.8" width="17.8" height="17.8" rx="0" fill="#A0A0A0" stroke="#2a2a2a" stroke-width="1.6" />
<rect x="1050.9" y="1427.8" width="17.8" height="17.8" rx="0" fill="#A0A0A0" stroke="#2a2a2a" stroke-width="1.6" />
<rect x="1071.2" y="1427.8" width="17.8" height="17.8" rx="0" fill="#A0A0A0" stroke="#2a2a2a" stroke-width="1.6" />
<rect x="990" y="1448.1" width="17.8" height="17.8" rx="0" fill="#A0A0A0" stroke="#2a2a2a" stroke-width="1.6" />
<rect x="1010.3" y="1448.1" width="17.8" height="17.8" rx="0" fill="#A0A0A0" stroke="#2a2a2a" stroke-width="1.6" />
<rect x="1030.6" y="1448.1" width="17.8" height="17.8" rx="0" fill="#A0A0A0" stroke="#2a2a2a" stroke-width="1.6" />
<rect x="1050.9" y="1448.1" width="17.8" height="17.8" rx="0" fill="#A0A0A0" stroke="#2a2a2a" stroke-width="1.6" />
<rect x="1071.2" y="1448.1" width="17.8" height="17.8" rx="0" fill="#A0A0A0" stroke="#2a2a2a" stroke-width="1.6" />
<text x="1014.3" y="1215.4" font-size="28" font-family="Liberation Serif" fill="#000" text-anchor="start" textLength="55.3" lengthAdjust="spacingAndGlyphs" >Pose</text>
<text x="972.5" y="1351.7" font-size="28" font-family="Liberation Serif" fill="#000" text-anchor="start" textLength="133.4" lengthAdjust="spacingAndGlyphs" >Expression</text>
<text x="1019.8" y="1493.4" font-size="28" font-family="Liberation Serif" fill="#000" text-anchor="start" textLength="41.8" lengthAdjust="spacingAndGlyphs" >Lip</text>
<path d="M1088,1140.9 L1227.7,1140.9 L1227.7,1224" fill="none" stroke="#000" stroke-width="3.5" stroke-linejoin="miter" />
<polygon points="1227.7,1237.2 1219.7,1222.2 1235.7,1222.2" fill="#000"/>
<line x1="1088" y1="1277.9" x2="1146.7" y2="1277.9" stroke="#000" stroke-width="3.5" />
<polygon points="1159.7,1277.9 1144.7,1285.9 1144.7,1269.9" fill="#000"/>
<path d="M1088,1416.4 L1227.5,1416.4 L1227.5,1320" fill="none" stroke="#000" stroke-width="3.5" stroke-linejoin="miter" />
<polygon points="1227.5,1306.2 1235.5,1321.2 1219.5,1321.2" fill="#000"/>
<rect x="1159.7" y="1237.2" width="152.7" height="69" rx="0" fill="#FBE5D6" stroke="#555" stroke-width="1.4" />
<text x="1172.4" y="1282.6" font-size="41" font-family="Liberation Serif" fill="#000" text-anchor="start" textLength="127.3" lengthAdjust="spacingAndGlyphs" >Adapter</text>
<line x1="1312.4" y1="1277.9" x2="1333.9" y2="1277.9" stroke="#000" stroke-width="3.5" />
<polygon points="1346.9,1277.9 1331.9,1285.9 1331.9,1269.9" fill="#000"/>
<line x1="1957" y1="950.3" x2="1957" y2="1077" stroke="#000" stroke-width="2.4" />
<rect x="1607.1" y="1077" width="755.3" height="447.2" rx="0" fill="#E2EFDA" stroke="#cfd8c8" stroke-width="1.2" />
<text x="1609.2" y="1065.7" font-size="38" font-family="Liberation Serif" fill="#000" text-anchor="start" textLength="305" lengthAdjust="spacingAndGlyphs" >Temporal Alignment</text>
<rect x="1648.3" y="1144.8" width="95.5" height="95.4" rx="0" fill="#BDD7EE" stroke="#333" stroke-width="1.4" />
<rect x="1662.6" y="1160.3" width="95.1" height="94.7" rx="0" fill="#BDD7EE" stroke="#333" stroke-width="1.4" />
<text x="1616.8" y="1289.9" font-size="30" font-family="Liberation Serif" fill="#000" text-anchor="start" textLength="168.2" lengthAdjust="spacingAndGlyphs" stroke="#000" stroke-width="0.35">Last N frames</text>
<rect x="1642" y="1316" width="95.5" height="95.4" rx="0" fill="#EDEDED" stroke="#333" stroke-width="1.4" />
<rect x="1655.5" y="1329.8" width="95.5" height="95.5" rx="0" fill="#EDEDED" stroke="#333" stroke-width="1.4" />
<rect x="1669.8" y="1343.3" width="95" height="95.9" rx="0" fill="#EDEDED" stroke="#333" stroke-width="1.4" />
<rect x="1684" y="1357.2" width="94.7" height="96.3" rx="0" fill="#EDEDED" stroke="#333" stroke-width="1.4" />
<text x="1621" y="1491.3" font-size="30" font-family="Liberation Serif" fill="#000" text-anchor="start" textLength="176.2" lengthAdjust="spacingAndGlyphs" stroke="#000" stroke-width="0.35">F frames noise</text>
<path d="M1757.7,1199 L1851.9,1199 L1851.9,1280" fill="none" stroke="#000" stroke-width="3.5" stroke-linejoin="miter" />
<path d="M1778.7,1406.4 L1851.9,1406.4 L1851.9,1316" fill="none" stroke="#000" stroke-width="3.5" stroke-linejoin="miter" />
<circle cx="1851.2" cy="1297.9" r="19.6" fill="#FFF0CC" stroke="#000" stroke-width="3.8"/>
<text x="1851.2" y="1306.7" font-size="28" font-family="Liberation Serif" fill="#000" text-anchor="middle" >C</text>
<line x1="1871" y1="1300.2" x2="1888.5" y2="1300.2" stroke="#000" stroke-width="3.5" />
<polygon points="1901.5,1300.2 1886.5,1308.2 1886.5,1292.2" fill="#000"/>
<rect x="1901.6" y="1253.3" width="196.7" height="88.9" rx="0" fill="#FBE5D6" stroke="#555" stroke-width="1.4" />
<text x="1922.8" y="1285.8" font-size="41" font-family="Liberation Serif" fill="#000" text-anchor="start" textLength="152.9" lengthAdjust="spacingAndGlyphs" >Temporal</text>
<text x="1927.9" y="1333.7" font-size="41" font-family="Liberation Serif" fill="#000" text-anchor="start" textLength="146.1" lengthAdjust="spacingAndGlyphs" >Self-Attn</text>
<line x1="2098.3" y1="1297.8" x2="2134.9" y2="1297.8" stroke="#000" stroke-width="3.5" />
<line x1="2134.9" y1="1195" x2="2134.9" y2="1408" stroke="#000" stroke-width="3.5" />
<line x1="2133.2" y1="1196.8" x2="2151" y2="1196.8" stroke="#000" stroke-width="3.5" />
<polygon points="2164,1196.8 2149,1204.8 2149,1188.8" fill="#000"/>
<line x1="2133.2" y1="1406.2" x2="2152.7" y2="1406.2" stroke="#000" stroke-width="3.5" />
<polygon points="2165.7,1406.2 2150.7,1414.2 2150.7,1398.2" fill="#000"/>
<rect x="2164" y="1145.2" width="94.7" height="95.1" rx="0" fill="#BDD7EE" stroke="#333" stroke-width="1.4" />
<rect x="2178.3" y="1160.2" width="95.1" height="95.5" rx="0" fill="#BDD7EE" stroke="#333" stroke-width="1.4" />
<rect x="2166.3" y="1332.7" width="95.1" height="95.1" rx="0" fill="#EDEDED" stroke="#333" stroke-width="1.4" />
<rect x="2179.7" y="1346.3" width="94.8" height="95.2" rx="0" fill="#EDEDED" stroke="#333" stroke-width="1.4" />
<rect x="2194" y="1360" width="94.5" height="95.1" rx="0" fill="#EDEDED" stroke="#333" stroke-width="1.4" />
<rect x="2207.7" y="1374" width="94.8" height="95.2" rx="0" fill="#EDEDED" stroke="#333" stroke-width="1.4" />
<line x1="2302.5" y1="1422.6" x2="2334" y2="1422.6" stroke="#000" stroke-width="3.5" />
<polygon points="2347,1422.6 2332,1430.6 2332,1414.6" fill="#000"/>
</svg></body></html>
